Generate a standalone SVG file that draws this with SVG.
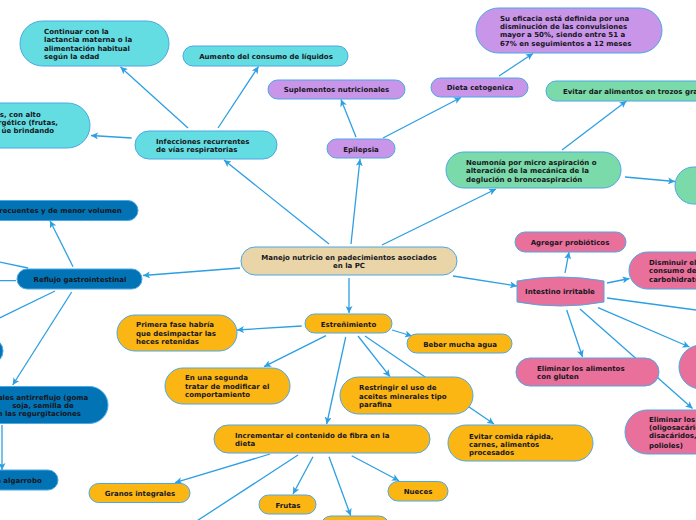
<svg xmlns="http://www.w3.org/2000/svg" width="696" height="520" viewBox="0 0 696 520">
<defs>
<marker id="ah" viewBox="0 0 10 10" refX="10" refY="5" markerWidth="7" markerHeight="7" markerUnits="userSpaceOnUse" orient="auto">
<path d="M0,0 L10,5 L0,10 L2.5,5 Z" fill="#2d9fe3"/>
</marker>
<style>
.c line{stroke:#2d9fe3;stroke-width:1.3;fill:none}
.c line.a{marker-end:url(#ah)}
.n rect,.n path{stroke:#4aa8e6;stroke-width:1}
.cy{fill:#63dde2}.pu{fill:#c895e8}.wh{fill:#e9d5a8}.gr{fill:#7bdaa9}.pk{fill:#e8709b}.db{fill:#0274b6}.am{fill:#fcb614}
text{font-family:"DejaVu Sans",Verdana,sans-serif;font-weight:bold;font-size:7px;fill:#161620}
.m{text-anchor:middle}.e{text-anchor:end}
</style>
</defs>
<rect width="696" height="520" fill="#ffffff"/>
<g id="connectors" class="c">
<line class="a" x1="329" y1="244" x2="224" y2="160"/>
<line class="a" x1="351" y1="244" x2="360" y2="159"/>
<line class="a" x1="382" y1="245" x2="496" y2="189"/>
<line class="a" x1="453" y1="276" x2="517" y2="286"/>
<line class="a" x1="349" y1="278" x2="349" y2="313"/>
<line class="a" x1="240" y1="268" x2="143" y2="275.5"/>
<line class="a" x1="188" y1="128" x2="120.5" y2="67"/>
<line class="a" x1="218" y1="128" x2="258.5" y2="66.5"/>
<line class="a" x1="131.7" y1="138" x2="91" y2="135.5"/>
<line class="a" x1="356" y1="137" x2="341" y2="99.5"/>
<line class="a" x1="383" y1="138" x2="461" y2="97.5"/>
<line class="a" x1="499" y1="76" x2="533" y2="53.5"/>
<line class="a" x1="562" y1="150" x2="626.5" y2="101"/>
<line class="a" x1="625" y1="177" x2="675" y2="181.5"/>
<line class="a" x1="565" y1="273" x2="569" y2="252"/>
<line class="a" x1="607" y1="283" x2="629.5" y2="278.5"/>
<line x1="607" y1="298" x2="720" y2="313.2"/>
<line class="a" x1="598" y1="307.7" x2="689.5" y2="347"/>
<line class="a" x1="566.7" y1="310" x2="582.5" y2="357"/>
<line class="a" x1="580" y1="309" x2="692.5" y2="408.5"/>
<line class="a" x1="73" y1="266.7" x2="50" y2="220.7"/>
<line x1="28" y1="268" x2="-20" y2="258"/>
<line x1="16" y1="280.7" x2="-20" y2="280.7"/>
<line x1="55" y1="291" x2="-20" y2="327.4"/>
<line class="a" x1="71.7" y1="292" x2="12.7" y2="385"/>
<line class="a" x1="2" y1="425" x2="2" y2="470"/>
<line class="a" x1="301.7" y1="326" x2="237" y2="330"/>
<line class="a" x1="326" y1="335.7" x2="264" y2="366.7"/>
<line class="a" x1="345.7" y1="337" x2="326.7" y2="424"/>
<line class="a" x1="358" y1="336" x2="390" y2="376.7"/>
<line class="a" x1="365" y1="336" x2="494" y2="424"/>
<line class="a" x1="392" y1="330" x2="412" y2="336"/>
<line class="a" x1="270" y1="454" x2="175" y2="482.7"/>
<line x1="298" y1="455" x2="186" y2="528"/>
<line class="a" x1="313" y1="456.7" x2="293" y2="494"/>
<line class="a" x1="329" y1="456.7" x2="350.7" y2="515.7"/>
<line class="a" x1="351.7" y1="455.7" x2="399" y2="480.7"/>
</g>
<g id="central" class="n"><rect class="wh" x="241" y="247" width="216" height="28" rx="14"/><text class="m" x="349" y="260">Manejo nutricio en padecimientos asociados</text><text class="m" x="349" y="268.3">en la PC</text></g>
<g id="infecciones" class="n"><rect class="cy" x="135" y="131" width="142" height="28" rx="14"/><text x="156" y="143.5">Infecciones recurrentes</text><text x="156" y="152">de vías respiratorias</text></g>
<g id="continuar" class="n"><rect class="cy" x="20" y="21" width="149" height="45" rx="22.5"/><text x="44" y="34.2">Continuar con la</text><text x="44" y="42.4">lactancia materna o la</text><text x="44" y="50.8">alimentación habitual</text><text x="44" y="59.2">según la edad</text></g>
<g id="aumento" class="n"><rect class="cy" x="183" y="46" width="165" height="20" rx="10"/><text class="m" x="266" y="59">Aumento del consumo de líquidos</text></g>
<g id="alimentos-energeticos" class="n"><rect class="cy" x="-60" y="103" width="150" height="45" rx="22.5"/><text class="e" x="40.7" y="116.5">s, con alto</text><text class="e" x="58" y="125">rgético (frutas,</text><text class="e" x="54" y="133.3">úe brindando</text></g>
<g id="epilepsia" class="n"><rect class="pu" x="327" y="139" width="68" height="19" rx="9.5"/><text class="m" x="361" y="151.8">Epilepsia</text></g>
<g id="suplementos" class="n"><rect class="pu" x="268" y="80" width="137" height="19" rx="9.5"/><text class="m" x="336.5" y="92">Suplementos nutricionales</text></g>
<g id="dieta" class="n"><rect class="pu" x="431" y="78" width="97" height="19" rx="9.5"/><text class="m" x="480" y="90">Dieta cetogenica</text></g>
<g id="eficacia" class="n"><rect class="pu" x="476" y="8" width="186" height="45" rx="22.5"/><text x="500" y="20.8">Su eficacia está definida por una</text><text x="500" y="28.9">disminución de las convulsiones</text><text x="500" y="37.4">mayor a 50%, siendo entre 51 a</text><text x="500" y="45.8">67% en seguimientos a 12 meses</text></g>
<g id="neumonia" class="n"><rect class="gr" x="446" y="152" width="175" height="36" rx="18"/><text x="466" y="165.2">Neumonía por micro aspiración o</text><text x="466" y="173.2">alteración de la mecánica de la</text><text x="466" y="181.8">deglución o broncoaspiración</text></g>
<g id="trozos" class="n"><rect class="gr" x="546" y="81" width="170" height="20" rx="10"/><text x="563" y="94">Evitar dar alimentos en trozos grandes</text></g>
<g id="neumonia-2" class="n"><rect class="gr" x="675" y="167" width="60" height="37" rx="18.5"/></g>
<g id="intestino" class="n"><path class="pk" d="M517,281 Q560,273 604,281 L604,302 Q560,310 517,302 Z"/><text class="m" x="560" y="294">Intestino irritable</text></g>
<g id="probioticos" class="n"><rect class="pk" x="515" y="232" width="111" height="20" rx="10"/><text class="m" x="570" y="245">Agregar probióticos</text></g>
<g id="carbohidratos" class="n"><rect class="pk" x="629" y="252" width="100" height="37" rx="18.5"/><text x="649" y="265">Disminuir el</text><text x="649" y="273">consumo de</text><text x="649" y="281.8">carbohidratos</text></g>
<g id="intestino-3" class="n"><rect class="pk" x="679" y="345" width="80" height="44" rx="22"/></g>
<g id="gluten" class="n"><rect class="pk" x="516" y="358" width="143" height="28" rx="14"/><text x="537" y="370.8">Eliminar los alimentos</text><text x="537" y="379.2">con gluten</text></g>
<g id="oligosacaridos" class="n"><rect class="pk" x="625" y="410" width="100" height="44" rx="22"/><text x="649" y="421.8">Eliminar los</text><text x="649" y="429.8">(oligosacáridos,</text><text x="649" y="438.2">disacáridos,</text><text x="649" y="447.5">polioles)</text></g>
<g id="reflujo" class="n"><rect class="db" x="17" y="269" width="125" height="20" rx="10"/><text class="m" x="80" y="282">Reflujo gastrointestinal</text></g>
<g id="frecuentes" class="n"><rect class="db" x="-40" y="200.5" width="178" height="20" rx="10"/><text class="e" x="121.7" y="213.4">frecuentes y de menor volumen</text></g>
<g id="reflujo-3" class="n"><rect class="db" x="-40" y="338" width="43" height="26" rx="13"/></g>
<g id="antirreflujo" class="n"><rect class="db" x="-80" y="386.5" width="188" height="37" rx="18.5"/><text class="e" x="88.3" y="399.5">ales antirreflujo (goma</text><text class="e" x="73.7" y="407.8">soja, semilla de</text><text class="e" x="81" y="416">n las regurgitaciones</text></g>
<g id="algarrobo" class="n"><rect class="db" x="-60" y="470" width="118" height="20" rx="10"/><text class="e" x="41.7" y="483.2">e algarrobo</text></g>
<g id="estrenimiento" class="n"><rect class="am" x="305" y="314" width="87" height="19" rx="9.5"/><text class="m" x="348.5" y="326.5">Estreñimiento</text></g>
<g id="primera" class="n"><rect class="am" x="117" y="315" width="120" height="36" rx="18"/><text x="136" y="326.8">Primera fase habría</text><text x="136" y="335.6">que desimpactar las</text><text x="136" y="344">heces retenidas</text></g>
<g id="segunda" class="n"><rect class="am" x="165" y="368" width="125" height="36" rx="18"/><text x="185" y="380.2">En una segunda</text><text x="185" y="388.8">tratar de modificar el</text><text x="185" y="397.2">comportamiento</text></g>
<g id="restringir" class="n"><rect class="am" x="340" y="377" width="133" height="37" rx="18.5"/><text x="359" y="389.8">Restringir el uso de</text><text x="359" y="398.5">aceites minerales tipo</text><text x="359" y="406.8">parafina</text></g>
<g id="comida-rapida" class="n"><rect class="am" x="448" y="425" width="145" height="36" rx="18"/><text x="469" y="438.5">Evitar comida rápida,</text><text x="469" y="446.8">carnes, alimentos</text><text x="469" y="455.2">procesados</text></g>
<g id="agua" class="n"><rect class="am" x="407" y="334" width="105" height="19" rx="9.5"/><text class="m" x="460" y="346.8">Beber mucha agua</text></g>
<g id="fibra" class="n"><rect class="am" x="214" y="425" width="216" height="28" rx="14"/><text x="235" y="437.5">Incrementar el contenido de fibra en la</text><text x="235" y="445.8">dieta</text></g>
<g id="granos" class="n"><rect class="am" x="89" y="483.5" width="101" height="19" rx="9.5"/><text class="m" x="140" y="496">Granos integrales</text></g>
<g id="frutas" class="n"><rect class="am" x="259" y="495" width="57" height="19" rx="9.5"/><text class="m" x="288" y="508">Frutas</text></g>
<g id="nueces" class="n"><rect class="am" x="388" y="481.5" width="60" height="19.5" rx="9.75"/><text class="m" x="418" y="493.8">Nueces</text></g>
<g id="fibra-4" class="n"><rect class="am" x="321" y="516" width="68" height="20" rx="10"/></g>
</svg>
